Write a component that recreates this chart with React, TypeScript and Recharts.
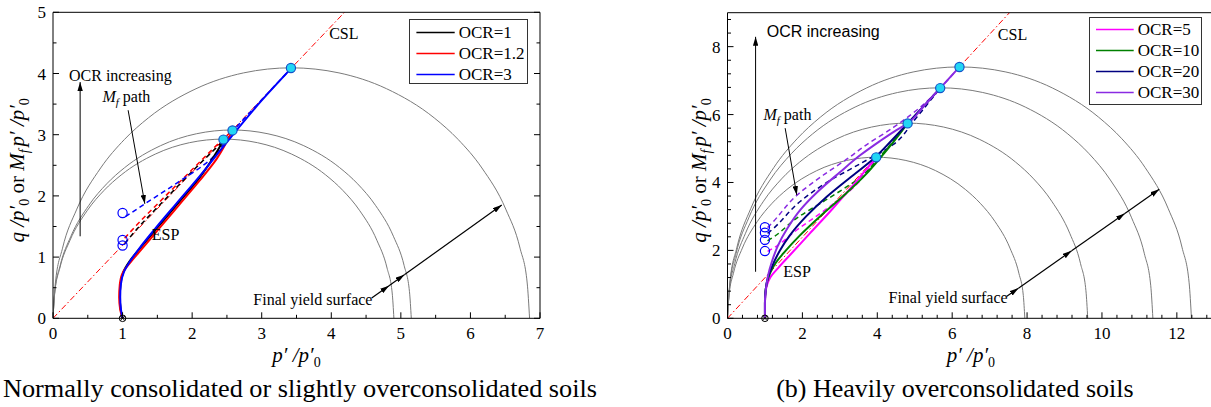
import React from 'react';
import { ComposedChart, Line, XAxis, YAxis, ReferenceDot, Legend } from 'recharts';

type Pt = [number, number];

// ================= Panel (a) data =================
const xTicksA = [0, 0.5, 1, 1.5, 2, 2.5, 3, 3.5, 4, 4.5, 5, 5.5, 6, 6.5, 7];
const xLabelsA = [0, 1, 2, 3, 4, 5, 6, 7];
const yTicksA = [0, 0.5, 1, 1.5, 2, 2.5, 3, 3.5, 4, 4.5, 5];
const yLabelsA = [0, 1, 2, 3, 4, 5];

const yieldA1: Pt[] = [[0, 0], [0.0245, 0.413], [0.098, 0.82], [0.245, 1.276], [0.49, 1.757], [0.735, 2.091], [0.98, 2.342], [1.47, 2.683], [1.96, 2.869], [2.45, 2.928], [2.94, 2.869], [3.43, 2.683], [3.92, 2.342], [4.165, 2.091], [4.41, 1.757], [4.655, 1.276], [4.802, 0.82], [4.8755, 0.413], [4.9, 0]];
const yieldA2: Pt[] = [[0, 0], [0.02575, 0.434], [0.103, 0.862], [0.2575, 1.341], [0.515, 1.846], [0.7725, 2.198], [1.03, 2.462], [1.545, 2.82], [2.06, 3.015], [2.575, 3.077], [3.09, 3.015], [3.605, 2.82], [4.12, 2.462], [4.3775, 2.198], [4.635, 1.846], [4.8925, 1.341], [5.047, 0.862], [5.124, 0.434], [5.15, 0]];
const yieldA3: Pt[] = [[0, 0], [0.0343, 0.577], [0.137, 1.146], [0.3425, 1.784], [0.685, 2.456], [1.0275, 2.923], [1.37, 3.274], [2.055, 3.751], [2.74, 4.01], [3.425, 4.093], [4.11, 4.01], [4.795, 3.751], [5.48, 3.274], [5.8225, 2.923], [6.165, 2.456], [6.5075, 1.784], [6.713, 1.146], [6.816, 0.577], [6.85, 0]];

const cslA: Pt[] = [[0, 0], [4.19, 5]];

const espA1: Pt[] = [[1, 0], [0.972, 0.15], [0.961, 0.35], [0.97, 0.55], [1.012, 0.76], [1.1, 0.93], [1.27, 1.17], [1.5, 1.48], [1.79, 1.87], [2.09, 2.27], [2.45, 2.9]];
const espA2: Pt[] = [[1, 0], [0.965, 0.15], [0.951, 0.35], [0.96, 0.55], [1.005, 0.75], [1.11, 0.91], [1.29, 1.15], [1.52, 1.46], [1.81, 1.85], [2.1, 2.24], [2.35, 2.6], [2.58, 3.07]];
const espA3: Pt[] = [[1, 0], [0.976, 0.15], [0.966, 0.35], [0.975, 0.55], [1.02, 0.76], [1.1, 0.92], [1.26, 1.17], [1.48, 1.48], [1.77, 1.87], [2.07, 2.27], [2.5, 2.88], [3.0, 3.56], [3.42, 4.08]];

const mfA1: Pt[] = [[1.03, 1.22], [1.2, 1.45], [1.6, 1.93], [2.0, 2.4], [2.45, 2.9]];
const mfA2: Pt[] = [[1.03, 1.31], [1.2, 1.52], [1.6, 1.98], [2.0, 2.43], [2.4, 2.88], [2.58, 3.07]];
const mfA3: Pt[] = [[1.04, 1.66], [1.32, 1.87], [1.78, 2.21], [2.26, 2.59], [2.58, 3.05], [3.0, 3.57], [3.42, 4.08]];

const critA: Pt[] = [[2.45, 2.92], [2.58, 3.07], [3.42, 4.09]];
const mfStartA: Pt[] = [[1, 1.72], [1, 1.28], [1, 1.19]];

const arrowOcrA: Pt[] = [[0.39, 1.34], [0.39, 3.86]];
const arrowMfA: Pt[] = [[1.08, 3.4], [1.32, 1.87]];
const fysA1: Pt[] = [[4.58, 0.33], [4.83, 0.533]];
const fysA2: Pt[] = [[4.83, 0.533], [5.05, 0.712]];
const fysA3: Pt[] = [[5.05, 0.712], [6.45, 1.85]];

const namesA = ['OCR=1', 'OCR=1.2', 'OCR=3'];

// ================= Panel (b) data =================
const xTicksB = [0, 0.4, 0.8, 1.2, 1.6, 2, 2.4, 2.8, 3.2, 3.6, 4, 4.4, 4.8, 5.2, 5.6, 6, 6.4, 6.8, 7.2, 7.6, 8, 8.4, 8.8, 9.2, 9.6, 10, 10.4, 10.8, 11.2, 11.6, 12, 12.4, 12.8];
const xLabelsB = [0, 2, 4, 6, 8, 10, 12];
const yTicksB = [0, 0.4, 0.8, 1.2, 1.6, 2, 2.4, 2.8, 3.2, 3.6, 4, 4.4, 4.8, 5.2, 5.6, 6, 6.4, 6.8, 7.2, 7.6, 8, 8.4, 8.8];
const yLabelsB = [0, 2, 4, 6, 8];

const yieldB1: Pt[] = [[0, 0], [0.0397, 0.669], [0.1588, 1.328], [0.397, 2.068], [0.794, 2.847], [1.191, 3.388], [1.588, 3.795], [2.382, 4.348], [3.176, 4.648], [3.97, 4.744], [4.764, 4.648], [5.558, 4.348], [6.352, 3.795], [6.749, 3.388], [7.146, 2.847], [7.543, 2.068], [7.781, 1.328], [7.9, 0.669], [7.94, 0]];
const yieldB2: Pt[] = [[0, 0], [0.0481, 0.811], [0.1924, 1.609], [0.481, 2.505], [0.962, 3.449], [1.443, 4.105], [1.924, 4.598], [2.886, 5.268], [3.848, 5.632], [4.81, 5.748], [5.772, 5.632], [6.734, 5.268], [7.696, 4.598], [8.177, 4.105], [8.658, 3.449], [9.139, 2.505], [9.428, 1.609], [9.572, 0.811], [9.62, 0]];
const yieldB3: Pt[] = [[0, 0], [0.0568, 0.957], [0.2272, 1.901], [0.568, 2.959], [1.136, 4.073], [1.704, 4.847], [2.272, 5.43], [3.408, 6.221], [4.544, 6.65], [5.68, 6.788], [6.816, 6.65], [7.952, 6.221], [9.088, 5.43], [9.656, 4.847], [10.224, 4.073], [10.792, 2.959], [11.133, 1.901], [11.303, 0.957], [11.36, 0]];
const yieldB4: Pt[] = [[0, 0], [0.062, 1.044], [0.2478, 2.073], [0.6195, 3.227], [1.239, 4.442], [1.8585, 5.287], [2.478, 5.922], [3.717, 6.785], [4.956, 7.254], [6.195, 7.403], [7.434, 7.254], [8.673, 6.785], [9.912, 5.922], [10.5315, 5.287], [11.151, 4.442], [11.7705, 3.227], [12.142, 2.073], [12.328, 1.044], [12.39, 0]];

const cslB: Pt[] = [[0, 0], [7.53, 9]];

const espB5: Pt[] = [[1, 0], [1.0, 0.4], [1.015, 0.75], [1.06, 1.0], [1.15, 1.22], [1.35, 1.48], [1.7, 1.9], [2.2, 2.5], [2.8, 3.22], [3.4, 3.98], [3.97, 4.74]];
const espB10: Pt[] = [[1, 0], [1.0, 0.45], [1.02, 0.85], [1.07, 1.12], [1.15, 1.36], [1.3, 1.65], [1.49, 1.91], [1.94, 2.45], [2.47, 3.0], [3.09, 3.6], [3.72, 4.27], [4.0, 4.62], [4.4, 5.15], [4.81, 5.74]];
const espB20: Pt[] = [[1, 0], [1.0, 0.45], [1.02, 0.85], [1.08, 1.2], [1.2, 1.55], [1.4, 2.0], [1.67, 2.45], [2.1, 3.0], [2.65, 3.58], [3.27, 4.14], [3.9, 4.7], [4.35, 5.2], [4.81, 5.74], [5.25, 6.26], [5.68, 6.78]];
const espB30: Pt[] = [[1, 0], [1.0, 0.5], [1.03, 0.9], [1.08, 1.25], [1.18, 1.65], [1.35, 2.15], [1.6, 2.65], [1.95, 3.2], [2.4, 3.72], [3.0, 4.3], [3.54, 4.8], [4.07, 5.22], [4.45, 5.5], [4.81, 5.74], [5.25, 6.26], [5.68, 6.78], [6.195, 7.4]];

const mfB5: Pt[] = [[1.07, 1.97], [1.2, 2.05], [1.85, 2.6], [2.74, 3.3], [3.36, 3.85], [3.97, 4.74]];
const mfB10: Pt[] = [[1.07, 2.28], [1.2, 2.37], [1.85, 2.95], [2.65, 3.5], [3.54, 4.15], [4.1, 4.8], [4.81, 5.74]];
const mfB20: Pt[] = [[1.07, 2.5], [1.2, 2.62], [1.94, 3.44], [2.65, 4.0], [3.54, 4.55], [4.43, 5.12], [5.0, 5.85], [5.68, 6.78]];
const mfB30: Pt[] = [[1.07, 2.67], [1.2, 2.82], [1.85, 3.62], [2.56, 4.22], [3.27, 4.75], [3.63, 5.05], [4.43, 5.62], [5.32, 6.38], [5.68, 6.78], [6.195, 7.4]];

const critB: Pt[] = [[3.97, 4.74], [4.81, 5.74], [5.68, 6.78], [6.195, 7.4]];
const mfStartB: Pt[] = [[1, 1.98], [1, 2.31], [1, 2.52], [1, 2.68]];

const arrowOcrB: Pt[] = [[0.75, 1.37], [0.75, 8.29]];
const arrowMfB: Pt[] = [[1.54, 5.6], [1.85, 3.63]];
const fysB1: Pt[] = [[7.45, 0.64], [7.77, 0.888]];
const fysB2: Pt[] = [[7.77, 0.888], [9.19, 1.988]];
const fysB3: Pt[] = [[9.19, 1.988], [10.61, 3.087]];
const fysB4: Pt[] = [[10.61, 3.087], [11.53, 3.8]];

const namesB = ['OCR=5', 'OCR=10', 'OCR=20', 'OCR=30'];

// ================= styles =================
const SERIF = "'Liberation Serif', 'Times New Roman', serif";
const SANS = "'Liberation Sans', Arial, sans-serif";
const colorsA = ['#000000', '#ff0000', '#0000ff'];
const colorsB = ['#ff00ff', '#008000', '#000080', '#8a2be2'];
const ARC = '#7a7a7a';
const CSL = '#ff0000';
const CYAN_FILL = '#22d6f4';
const CYAN_EDGE = '#1553c9';
const OPEN = '#0000ff';

const xy = (pts: Pt[]) => pts.map(([x, y]) => ({ x, y }));
const isIn = (list: number[], v: number) => list.some((m) => Math.abs(m - v) < 1e-6);

function curve(key: string, data: Pt[], color: string, width: number, type: any, dash?: string, marker?: string) {
  return (
    <Line
      key={key}
      data={xy(data)}
      dataKey="y"
      type={type}
      stroke={color}
      strokeWidth={width}
      strokeDasharray={dash}
      dot={false}
      activeDot={false}
      isAnimationActive={false}
      legendType="none"
      markerEnd={marker ? `url(#${marker})` : undefined}
    />
  );
}

function points(key: string, data: Pt[], fill: string, stroke: string) {
  return (
    <Line
      key={key}
      data={xy(data)}
      dataKey="y"
      stroke="none"
      isAnimationActive={false}
      legendType="none"
      activeDot={false}
      dot={{ r: 4.6, fill, stroke, strokeWidth: 1.2 }}
    />
  );
}

function note(key: string, x: number, y: number, content: React.ReactNode, family: string, size = 16) {
  return (
    <ReferenceDot
      key={key}
      x={x}
      y={y}
      r={0}
      fill="none"
      stroke="none"
      ifOverflow="visible"
      label={{
        content: (p: any) => {
          const vb = p.viewBox || { x: 0, y: 0 };
          return (
            <text x={vb.x} y={vb.y} fontFamily={family} fontSize={size} fill="#000">
              {content}
            </text>
          );
        },
      }}
    />
  );
}

const mfLabel = (
  <>
    <tspan fontStyle="italic">M</tspan>
    <tspan fontStyle="italic" fontSize={11} dy={4}>f</tspan>
    <tspan dy={-4}> path</tspan>
  </>
);

const crossShape = (p: any) => (
  <g>
    <circle cx={p.cx} cy={p.cy} r={3.3} fill="none" stroke="#000" strokeWidth={1} />
    <line x1={p.cx - 2.3} y1={p.cy - 2.3} x2={p.cx + 2.3} y2={p.cy + 2.3} stroke="#000" strokeWidth={0.9} />
    <line x1={p.cx - 2.3} y1={p.cy + 2.3} x2={p.cx + 2.3} y2={p.cy - 2.3} stroke="#000" strokeWidth={0.9} />
  </g>
);

const bottomTick = (labels: number[]) => (props: any) => {
  const { x, y, payload } = props;
  const v = payload?.value;
  const major = isIn(labels, v);
  return (
    <g>
      <line x1={x} x2={x} y1={y} y2={y - (major ? 6 : 3.5)} stroke="#000" strokeWidth={1} />
      {major && (
        <text x={x} y={y + 21} textAnchor="middle" fontFamily={SERIF} fontSize={17} fill="#000">
          {v}
        </text>
      )}
    </g>
  );
};

const leftTick = (labels: number[]) => (props: any) => {
  const { x, y, payload } = props;
  const v = payload?.value;
  const major = isIn(labels, v);
  return (
    <g>
      <line x1={x} x2={x + (major ? 6 : 3.5)} y1={y} y2={y} stroke="#000" strokeWidth={1} />
      {major && (
        <text x={x - 7} y={y + 6} textAnchor="end" fontFamily={SERIF} fontSize={17} fill="#000">
          {v}
        </text>
      )}
    </g>
  );
};

const rightTick = (labels: number[]) => (props: any) => {
  const { x, y, payload } = props;
  const major = isIn(labels, payload?.value);
  return <line x1={x} x2={x - (major ? 6 : 3.5)} y1={y} y2={y} stroke="#000" strokeWidth={1} />;
};

const noTick = () => <g />;

const yTitle = (off: number) => (p: any) => {
  const vb = p.viewBox || { x: 0, y: 0, width: 0, height: 0 };
  const cx = vb.x + vb.width - off;
  const cy = vb.y + vb.height / 2 + 5;
  return (
    <text x={cx} y={cy} transform={`rotate(-90 ${cx} ${cy})`} textAnchor="middle" fontFamily={SERIF} fontSize={21} fill="#000">
      <tspan fontStyle="italic">q /p′</tspan>
      <tspan fontSize={14} dy={5}>0</tspan>
      <tspan dy={-5}> or </tspan>
      <tspan fontStyle="italic">M</tspan>
      <tspan fontStyle="italic" fontSize={14} dy={5}>f</tspan>
      <tspan fontStyle="italic" dy={-5} dx={3}>p′ /p′</tspan>
      <tspan fontSize={14} dy={5}>0</tspan>
    </text>
  );
};

const xTitle = (caption: string, capX: (vb: any) => number, capAnchor: 'start' | 'middle', capSize: number, capLen?: number) => (p: any) => {
  const vb = p.viewBox || { x: 0, y: 0, width: 0, height: 0 };
  const cx = vb.x + vb.width / 2;
  return (
    <g>
      <text x={cx} y={vb.y + 44} textAnchor="middle" fontFamily={SERIF} fontSize={21} fill="#000">
        <tspan fontStyle="italic">p′ /p′</tspan>
        <tspan fontSize={14} dy={5}>0</tspan>
      </text>
      <text
        x={capX(vb)}
        y={vb.y + 79}
        textAnchor={capAnchor}
        fontFamily={SERIF}
        fontSize={capSize}
        fill="#000"
        textLength={capLen}
        lengthAdjust={capLen ? 'spacingAndGlyphs' : undefined}
      >
        {caption}
      </text>
    </g>
  );
};

const legendBox = (names: string[], colors: string[], w: number, h: number, padTop: number, lineX0: number, lineX1: number) => () => (
  <div
    style={{
      width: w,
      height: h,
      boxSizing: 'border-box',
      border: '1px solid #333',
      background: '#fff',
      paddingTop: padTop,
      fontFamily: SERIF,
      fontSize: 17,
      color: '#000',
    }}
  >
    {names.map((n, i) => (
      <div key={n} style={{ display: 'flex', alignItems: 'center', height: 21 }}>
        <svg width={lineX1 + 4} height={21} style={{ display: 'block', flex: 'none' }}>
          <line x1={lineX0} x2={lineX1} y1={10.5} y2={10.5} stroke={colors[i]} strokeWidth={1.6} />
        </svg>
        <span style={{ lineHeight: '21px', whiteSpace: 'nowrap' }}>{n}</span>
      </div>
    ))}
  </div>
);

const arrowDefs = (id: string) => (
  <defs>
    <marker id={id} viewBox="0 0 10 6" refX={10} refY={3} markerWidth={9} markerHeight={5.4} markerUnits="userSpaceOnUse" orient="auto">
      <path d="M0,0 L10,3 L0,6 z" fill="#000" />
    </marker>
  </defs>
);

const AXIS_LINE = { stroke: '#000', strokeWidth: 1 };

function PanelA() {
  return (
    <ComposedChart width={600} height={407} margin={{ top: 11.3, right: 59, bottom: 87.7, left: 52 }}>
      {arrowDefs('arrA')}
      <XAxis
        xAxisId={0}
        dataKey="x"
        type="number"
        domain={[0, 7]}
        allowDataOverflow
        ticks={xTicksA}
        interval={0}
        height={1}
        tickSize={0}
        tickMargin={0}
        tickLine={false}
        axisLine={AXIS_LINE}
        tick={bottomTick(xLabelsA)}
        label={{ content: xTitle('Normally consolidated or slightly overconsolidated soils', (vb) => vb.x - 50, 'start', 26, 594) }}
      />
      <XAxis xAxisId="top" orientation="top" type="number" domain={[0, 7]} allowDataOverflow ticks={xLabelsA} interval={0} height={1} tickSize={0} tickMargin={0} tickLine={false} tick={noTick} axisLine={AXIS_LINE} />
      <YAxis
        yAxisId={0}
        type="number"
        domain={[0, 5]}
        allowDataOverflow
        ticks={yTicksA}
        interval={0}
        width={1}
        tickSize={0}
        tickMargin={0}
        tickLine={false}
        axisLine={AXIS_LINE}
        tick={leftTick(yLabelsA)}
        label={{ content: yTitle(29) }}
      />
      <YAxis yAxisId="right" orientation="right" type="number" domain={[0, 5]} allowDataOverflow ticks={yTicksA} interval={0} width={1} tickSize={0} tickMargin={0} tickLine={false} axisLine={AXIS_LINE} tick={rightTick(yLabelsA)} />

      {curve('arcA1', yieldA1, ARC, 1, 'monotone')}
      {curve('arcA2', yieldA2, ARC, 1, 'monotone')}
      {curve('arcA3', yieldA3, ARC, 1, 'monotone')}
      {curve('cslA', cslA, CSL, 1, 'linear', '6 2.5 1.5 2.5')}
      {curve('mfA1', mfA1, colorsA[0], 1.5, 'monotoneY', '5 3.5')}
      {curve('mfA2', mfA2, colorsA[1], 1.5, 'monotoneY', '5 3.5')}
      {curve('mfA3', mfA3, colorsA[2], 1.5, 'monotoneY', '5 3.5')}
      {curve('espA1', espA1, colorsA[0], 2, 'monotoneY')}
      {curve('espA2', espA2, colorsA[1], 2, 'monotoneY')}
      {curve('espA3', espA3, colorsA[2], 2, 'monotoneY')}
      {curve('arrOcrA', arrowOcrA, '#000', 1, 'linear', undefined, 'arrA')}
      {curve('arrMfA', arrowMfA, '#000', 1, 'linear', undefined, 'arrA')}
      {curve('fysA1', fysA1, '#000', 1.2, 'linear', undefined, 'arrA')}
      {curve('fysA2', fysA2, '#000', 1.2, 'linear', undefined, 'arrA')}
      {curve('fysA3', fysA3, '#000', 1.2, 'linear', undefined, 'arrA')}
      {points('critA', critA, CYAN_FILL, CYAN_EDGE)}
      {points('mfStartA', mfStartA, 'none', OPEN)}
      <ReferenceDot x={1} y={0} r={3.3} ifOverflow="visible" shape={crossShape} />

      {note('nOcrA', 0.23, 3.88, 'OCR increasing', SERIF)}
      {note('nMfA', 0.71, 3.53, mfLabel, SERIF)}
      {note('nEspA', 1.42, 1.28, 'ESP', SERIF)}
      {note('nCslA', 3.97, 4.56, 'CSL', SERIF)}
      {note('nFysA', 2.88, 0.22, 'Final yield surface', SERIF)}

      <Legend
        layout="vertical"
        align="center"
        verticalAlign="middle"
        width={119}
        height={65}
        wrapperStyle={{ left: 409, top: 19, right: 'auto', bottom: 'auto', width: 119, height: 65 }}
        content={legendBox(namesA, colorsA, 119, 65, 2, 6.4, 44.7)}
      />
    </ComposedChart>
  );
}

function PanelB() {
  return (
    <ComposedChart width={620} height={407} margin={{ top: 11.7, right: 5.7, bottom: 87.7, left: 126.5 }}>
      {arrowDefs('arrB')}
      <XAxis
        xAxisId={0}
        dataKey="x"
        type="number"
        domain={[0, 13]}
        allowDataOverflow
        ticks={xTicksB}
        interval={0}
        height={1}
        tickSize={0}
        tickMargin={0}
        tickLine={false}
        axisLine={AXIS_LINE}
        tick={bottomTick(xLabelsB)}
        label={{ content: xTitle('(b) Heavily overconsolidated soils', (vb) => vb.x + vb.width / 2 - 16, 'middle', 26) }}
      />
      <XAxis xAxisId="top" orientation="top" type="number" domain={[0, 13]} allowDataOverflow ticks={xLabelsB} interval={0} height={1} tickSize={0} tickMargin={0} tickLine={false} tick={noTick} axisLine={AXIS_LINE} />
      <YAxis
        yAxisId={0}
        type="number"
        domain={[0, 9]}
        allowDataOverflow
        ticks={yTicksB}
        interval={0}
        width={1}
        tickSize={0}
        tickMargin={0}
        tickLine={false}
        axisLine={AXIS_LINE}
        tick={leftTick(yLabelsB)}
        label={{ content: yTitle(22) }}
      />

      {curve('arcB1', yieldB1, ARC, 1, 'monotone')}
      {curve('arcB2', yieldB2, ARC, 1, 'monotone')}
      {curve('arcB3', yieldB3, ARC, 1, 'monotone')}
      {curve('arcB4', yieldB4, ARC, 1, 'monotone')}
      {curve('cslB', cslB, CSL, 1, 'linear', '6 2.5 1.5 2.5')}
      {curve('mfB5', mfB5, colorsB[0], 1.5, 'monotoneY', '5 3.5')}
      {curve('mfB10', mfB10, colorsB[1], 1.5, 'monotoneY', '5 3.5')}
      {curve('mfB20', mfB20, colorsB[2], 1.5, 'monotoneY', '5 3.5')}
      {curve('mfB30', mfB30, colorsB[3], 1.5, 'monotoneY', '5 3.5')}
      {curve('espB5', espB5, colorsB[0], 2, 'monotoneY')}
      {curve('espB10', espB10, colorsB[1], 2, 'monotoneY')}
      {curve('espB20', espB20, colorsB[2], 2, 'monotoneY')}
      {curve('espB30', espB30, colorsB[3], 2, 'monotoneY')}
      {curve('arrOcrB', arrowOcrB, '#000', 1, 'linear', undefined, 'arrB')}
      {curve('arrMfB', arrowMfB, '#000', 1, 'linear', undefined, 'arrB')}
      {curve('fysB1', fysB1, '#000', 1.2, 'linear', undefined, 'arrB')}
      {curve('fysB2', fysB2, '#000', 1.2, 'linear', undefined, 'arrB')}
      {curve('fysB3', fysB3, '#000', 1.2, 'linear', undefined, 'arrB')}
      {curve('fysB4', fysB4, '#000', 1.2, 'linear', undefined, 'arrB')}
      {points('critB', critB, CYAN_FILL, CYAN_EDGE)}
      {points('mfStartB', mfStartB, 'none', OPEN)}
      <ReferenceDot x={1} y={0} r={3.3} ifOverflow="visible" shape={crossShape} />

      {note('nOcrB', 1.05, 8.28, 'OCR increasing', SANS)}
      {note('nMfB', 0.96, 5.84, mfLabel, SERIF)}
      {note('nEspB', 1.49, 1.23, 'ESP', SERIF)}
      {note('nCslB', 7.22, 8.19, 'CSL', SERIF)}
      {note('nFysB', 4.3, 0.46, 'Final yield surface', SERIF)}

      <Legend
        layout="vertical"
        align="center"
        verticalAlign="middle"
        width={113}
        height={88}
        wrapperStyle={{ left: 489, top: 17.3, right: 'auto', bottom: 'auto', width: 113, height: 88 }}
        content={legendBox(namesB, colorsB, 113, 88, 0.5, 6, 43.7)}
      />
    </ComposedChart>
  );
}

export default function App() {
  return (
    <div style={{ position: 'absolute', left: 0, top: 0, width: 1211, height: 407, overflow: 'hidden', background: '#fff' }}>
      <div style={{ position: 'absolute', left: 0, top: 0 }}>
        <PanelA />
      </div>
      <div style={{ position: 'absolute', left: 600, top: 0 }}>
        <PanelB />
      </div>
    </div>
  );
}
